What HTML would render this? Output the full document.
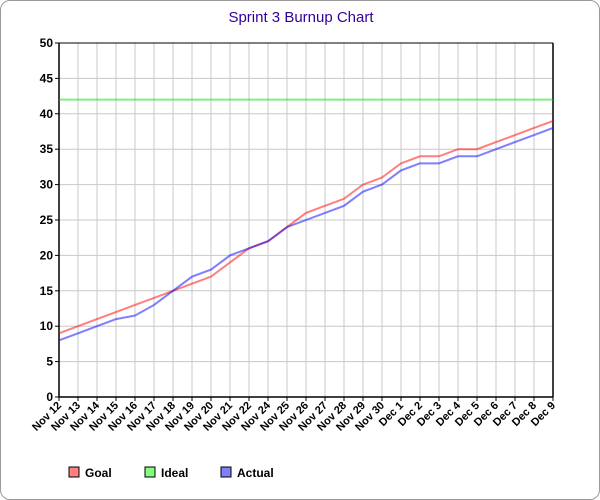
<!DOCTYPE html>
<html><head><meta charset="utf-8"><style>
body{margin:0;background:#fff;}
#wrap{position:relative;width:598px;height:498px;border:1px solid #999;border-radius:10px;overflow:hidden;background:#fff;}
svg{font-family:"Liberation Sans",sans-serif;}
</style></head><body>
<div id="wrap">
<svg id="c" width="600" height="500"></svg>
</div>
<script>
const categories=["Nov 12","Nov 13","Nov 14","Nov 15","Nov 16","Nov 17","Nov 18","Nov 19","Nov 20","Nov 21","Nov 22","Nov 24","Nov 25","Nov 26","Nov 27","Nov 28","Nov 29","Nov 30","Dec 1","Dec 2","Dec 3","Dec 4","Dec 5","Dec 6","Dec 7","Dec 8","Dec 9"];
const goal=[9,10,11,12,13,14,15,16,17,19,21,22,24,26,27,28,30,31,33,34,34,35,35,36,37,38,39];
const ideal=[42,42,42,42,42,42,42,42,42,42,42,42,42,42,42,42,42,42,42,42,42,42,42,42,42,42,42];
const actual=[8,9,10,11,11.5,13,15,17,18,20,21,22,24,25,26,27,29,30,32,33,33,34,34,35,36,37,38];
const yTicks=[0,5,10,15,20,25,30,35,40,45,50];
const X0=58,X1=552,Y0=396,Y1=42;
const xs=i=>X0+i*(X1-X0)/(categories.length-1);
const ys=v=>Y0-(v/50)*(Y0-Y1);
const svg=document.getElementById('c');
const NS='http://www.w3.org/2000/svg';
function mk(t,a){const e=document.createElementNS(NS,t);for(const k in a)e.setAttribute(k,a[k]);svg.appendChild(e);return e;}
let t=mk('text',{x:300,y:21,'text-anchor':'middle','font-size':15,fill:'#330099'});t.textContent='Sprint 3 Burnup Chart';


yTicks.forEach(v=>{
 const l=mk('line',{x1:X0,x2:X1,y1:ys(v),y2:ys(v),stroke:'#c8c8c8','stroke-width':1});
 
 
 mk('line',{x1:X0-4,x2:X0,y1:ys(v),y2:ys(v),stroke:'#000'});
 const tx=mk('text',{x:X0-6,y:ys(v)+4,'text-anchor':'end','font-size':12,'font-weight':'bold',fill:'#000'});tx.textContent=v;
 
 
});
categories.forEach((c,i)=>{
 const x=xs(i);
 const l=mk('line',{x1:x,x2:x,y1:Y1,y2:Y0+4,stroke:'#c8c8c8'});
 
 
 mk('line',{x1:x,x2:x,y1:Y0,y2:Y0+4,stroke:'#000'});
 const tx=mk('text',{x:x+3,y:Y0+9,'text-anchor':'end','font-size':11,'font-weight':'bold',fill:'#000',transform:`rotate(-45 ${x+3} ${Y0+9})`});tx.textContent=c;
 
 
});
mk('line',{x1:X0,x2:X0,y1:Y1,y2:Y0,stroke:'#000','stroke-width':1.5});
mk('line',{x1:X0,x2:X1,y1:Y0,y2:Y0,stroke:'#000','stroke-width':1.5});
mk('line',{x1:X1,x2:X1,y1:Y1,y2:Y0,stroke:'#000','stroke-width':1.5});
mk('line',{x1:X0,x2:X1,y1:Y1,y2:Y1,stroke:'#000','stroke-width':1});
function series(d,col,name){
 const p=mk('polyline',{points:d.map((v,i)=>xs(i)+','+ys(v)).join(' '),fill:'none',stroke:col,'stroke-width':2,'stroke-opacity':0.5});
 
 
}
series(ideal,'#00dd00','ideal-line');
series(goal,'#ff0000','goal-line');
series(actual,'#0000ff','actual-line');
[['Goal','#ff8080',68],['Ideal','#80ff80',144],['Actual','#8080ff',220]].forEach(([n,c,x])=>{
 const r=mk('rect',{x:x,y:466,width:10,height:10,fill:c,stroke:'#000'});
 
 
 const tx=mk('text',{x:x+16,y:476,'font-size':12,'font-weight':'bold',fill:'#000'});tx.textContent=n;
 
 
});
</script>
</body></html>
